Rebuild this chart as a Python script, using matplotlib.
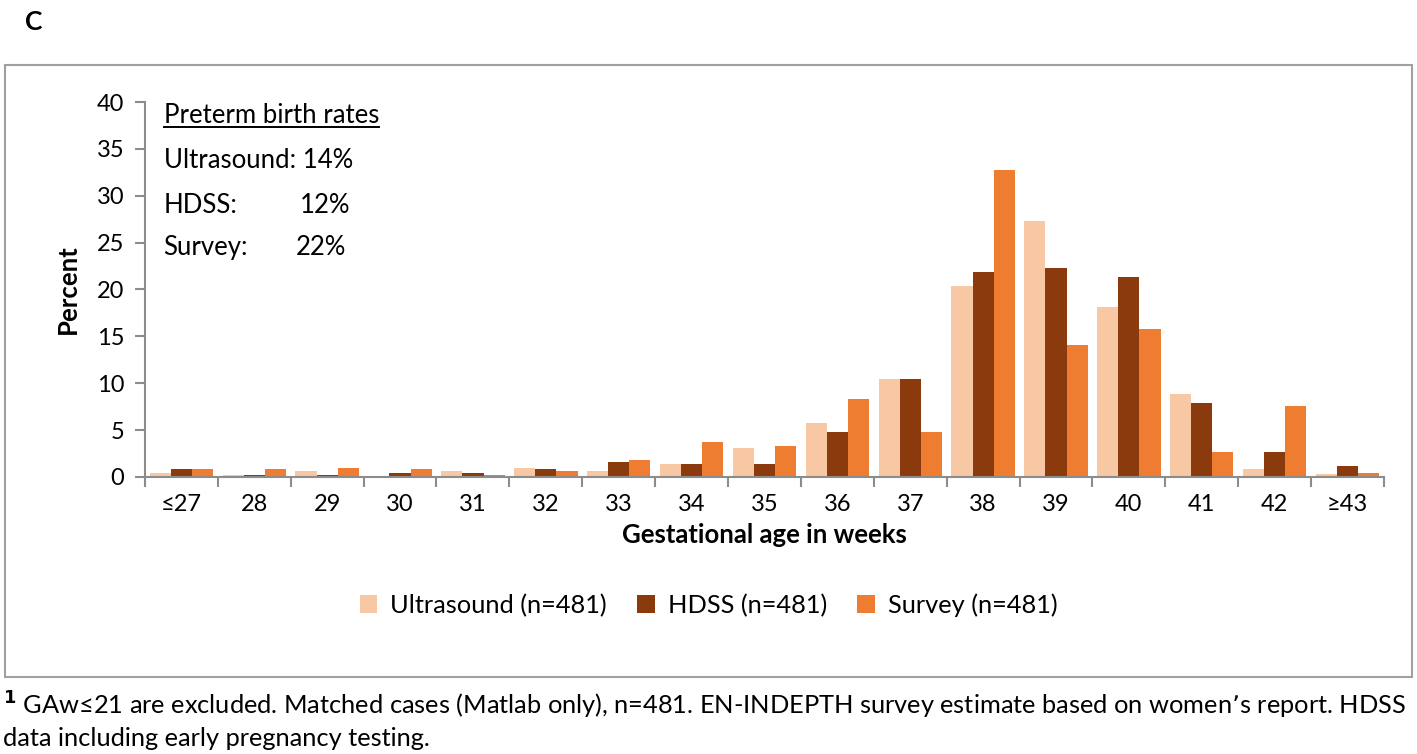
import numpy as np
import matplotlib.pyplot as plt
from matplotlib.patches import Rectangle
from matplotlib.lines import Line2D

plt.rcParams['font.family'] = ['Lato', 'DejaVu Sans']

# data
weeks = ['≤27', '28', '29', '30', '31', '32', '33', '34', '35', '36',
         '37', '38', '39', '40', '41', '42', '≥43']
ultrasound = [0.4, 0.2, 0.6, 0.0, 0.6, 1.0, 0.6, 1.4, 3.1, 5.8,
              10.4, 20.4, 27.3, 18.1, 8.8, 0.8, 0.3]
hdss = [0.9, 0.2, 0.2, 0.4, 0.4, 0.8, 1.6, 1.4, 1.4, 4.8,
        10.4, 21.9, 22.3, 21.3, 7.9, 2.7, 1.2]
survey = [0.9, 0.9, 1.0, 0.8, 0.2, 0.6, 1.8, 3.7, 3.3, 8.3,
          4.8, 32.8, 14.1, 15.8, 2.7, 7.6, 0.4]
series_names = ['Ultrasound (n=481)', 'HDSS (n=481)', 'Survey (n=481)']
colors = ['#F7C8A3', '#8A3A0D', '#EE7D31']

fig = plt.figure(figsize=(14.17, 7.54), dpi=100)
ax = fig.add_axes([0.1023, 0.3674, 0.8744, 0.4973])

x = np.arange(len(weeks))
w = 0.29
for i, (vals, name) in enumerate(zip([ultrasound, hdss, survey], series_names)):
    ax.bar(x + (i - 1) * w, vals, w, color=colors[i], label=name)

ax.set_xlim(-0.5, len(weeks) - 0.5)
ax.set_ylim(0, 40)
ax.set_yticks(range(0, 41, 5))
ax.set_xticks(x)
ax.set_xticklabels(weeks)
ax.set_xticks(np.arange(-0.5, len(weeks), 1), minor=True)
ax.tick_params(axis='x', which='major', length=0, pad=12, labelsize=17)
ax.tick_params(axis='x', which='minor', length=7, width=1.5, color='#8c8c8c')
ax.tick_params(axis='y', length=7, width=1.5, color='#8c8c8c', labelsize=17, pad=8)
for s in ['top', 'right']:
    ax.spines[s].set_visible(False)
for s in ['left', 'bottom']:
    ax.spines[s].set_color('#8c8c8c')
    ax.spines[s].set_linewidth(1.5)

ax.set_xlabel('Gestational age in weeks', fontsize=18.5, fontweight='bold', labelpad=6)
ax.set_ylabel('Percent', fontsize=18.5, fontweight='bold', labelpad=12)

# preterm rates box
fs = 18.5
t = ax.text(0.015, 0.963, 'Preterm birth rates', transform=ax.transAxes,
            fontsize=fs, va='center')
ax.text(0.015, 0.843, 'Ultrasound: 14%', transform=ax.transAxes, fontsize=fs, va='center')
ax.text(0.015, 0.723, 'HDSS:', transform=ax.transAxes, fontsize=fs, va='center')
ax.text(0.125, 0.723, '12%', transform=ax.transAxes, fontsize=fs, va='center')
ax.text(0.015, 0.613, 'Survey:', transform=ax.transAxes, fontsize=fs, va='center')
ax.text(0.122, 0.613, '22%', transform=ax.transAxes, fontsize=fs, va='center')

fig.canvas.draw()
bb = t.get_window_extent().transformed(fig.transFigure.inverted())
fig.add_artist(Line2D([bb.x0, bb.x1], [bb.y0 + 0.002, bb.y0 + 0.002],
                      transform=fig.transFigure, color='black', lw=1.4))

fig.legend(loc='center', bbox_to_anchor=(0.5, 0.197), ncol=3, frameon=False,
           fontsize=18.3, handlelength=0.7, handleheight=0.7, columnspacing=1.2,
           handletextpad=0.5)

# outer frame
fig.add_artist(Rectangle((5 / 1417, 1 - 677 / 754), 1407 / 1417, 612 / 754,
                         transform=fig.transFigure, fill=False,
                         edgecolor='#a0a0a0', lw=1.5))

fig.text(25 / 1417, 1 - 22 / 754, 'C', fontsize=19, fontweight='bold', va='center')

fig.text(0.002, 1 - 705 / 754,
         '$^{\\mathbf{1}}$ GAw≤21 are excluded. Matched cases (Matlab only), n=481. '
         'EN-INDEPTH survey estimate based on women’s report. HDSS',
         fontsize=18.3, va='center')
fig.text(0.002, 1 - 738 / 754, 'data including early pregnancy testing.',
         fontsize=18.3, va='center')

fig.savefig('out.png', dpi=100)
